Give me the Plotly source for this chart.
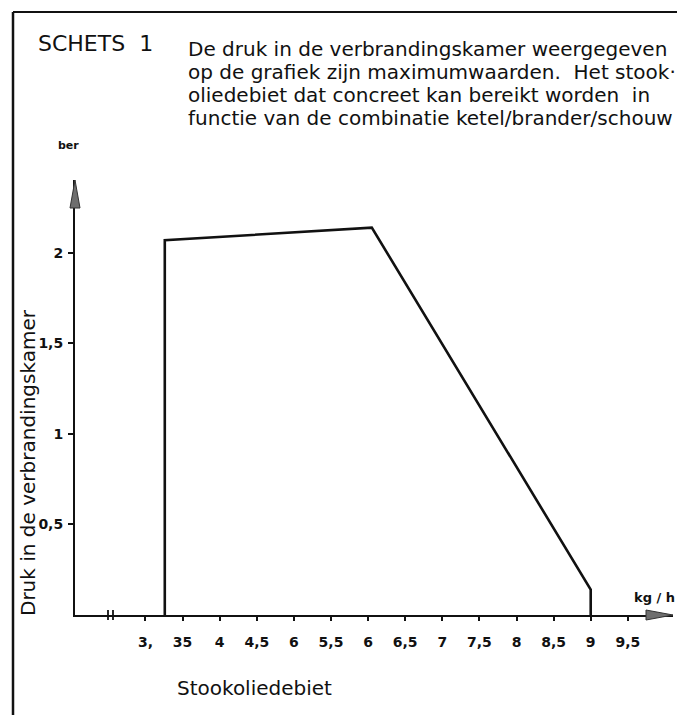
import plotly.graph_objects as go

# ---- data ----
flow = [3.26, 3.26, 6.05, 9.0, 9.0]          # Stookoliedebiet (kg/h)
pressure = [0.0, 2.07, 2.14, 0.14, 0.0]      # Druk in de verbrandingskamer (bar)

x_tick_vals = [3, 3.5, 4, 4.5, 5, 5.5, 6, 6.5, 7, 7.5, 8, 8.5, 9, 9.5]
x_tick_text = ["3,", "35", "4", "4,5", "6", "5,5", "6", "6,5", "7", "7,5", "8", "8,5", "9", "9,5"]
y_tick_vals = [0.5, 1, 1.5, 2]
y_tick_text = ["0,5", "1", "1,5", "2"]

title_left = "SCHETS\u00a0\u00a01"
note_lines = [
    "De druk in de verbrandingskamer weergegeven",
    "op de grafiek zijn maximumwaarden.\u00a0 Het stook\u00b7",
    "oliedebiet dat concreet kan bereikt worden\u00a0 in",
    "functie van de combinatie ketel/brander/schouw",
]
x_title = "Stookoliedebiet"
y_title = "Druk in de verbrandingskamer"
x_unit = "kg / h"
y_unit = "ber"

X_RANGE = [2.05, 10.109]
Y_RANGE = [0, 2.403]

FONT = "DejaVu Sans"
INK = "#111111"

# page geometry: the html body adds an 8px margin, so the figure is 8px smaller
OFF = 8
PLOT_L, PLOT_R, PLOT_T, PLOT_B = 75, 673, 180, 615   # plot area in page pixels
FIG_W, FIG_H = 685 - OFF, 715 - OFF


def px(xp):
    return (xp - PLOT_L) / (PLOT_R - PLOT_L)


def py(yp):
    return (PLOT_B - yp) / (PLOT_B - PLOT_T)


fig = go.Figure()
fig.add_trace(go.Scatter(x=flow, y=pressure, mode="lines",
                         line=dict(color=INK, width=2.6), showlegend=False,
                         hoverinfo="skip"))

fig.update_layout(
    width=FIG_W, height=FIG_H,
    margin=dict(l=PLOT_L - OFF, r=FIG_W + OFF - PLOT_R, t=PLOT_T - OFF,
                b=FIG_H + OFF - PLOT_B),
    paper_bgcolor="white", plot_bgcolor="white",
    font=dict(family=FONT, color=INK),
    showlegend=False,
)
fig.update_xaxes(range=X_RANGE, showgrid=False, zeroline=False,
                 showline=True, linecolor=INK, linewidth=2,
                 ticks="outside", ticklen=4, tickwidth=1.5, tickcolor=INK,
                 tickvals=x_tick_vals, ticktext=x_tick_text,
                 tickfont=dict(family=FONT, size=14, color=INK, weight="bold"),
                 ticklabelstandoff=9)
fig.update_yaxes(range=Y_RANGE, showgrid=False, zeroline=False,
                 showline=True, linecolor=INK, linewidth=2,
                 ticks="outside", ticklen=5, tickwidth=1.5, tickcolor=INK,
                 tickvals=y_tick_vals, ticktext=y_tick_text,
                 tickfont=dict(family=FONT, size=14, color=INK, weight="bold"),
                 ticklabelstandoff=2)

# page frame (top and left borders of the scanned sheet)
fig.add_shape(type="line", xref="paper", yref="paper", x0=px(13), x1=px(700),
              y0=py(12), y1=py(12), line=dict(color=INK, width=2))
fig.add_shape(type="line", xref="paper", yref="paper", x0=px(13), x1=px(13),
              y0=py(12), y1=py(730), line=dict(color=INK, width=2.5))

# arrowheads on axes
fig.add_shape(type="path", xref="paper", yref="paper", xsizemode="pixel", ysizemode="pixel",
              xanchor=1, yanchor=0, path="M0,0 L-27,5 L-27,-5 Z",
              fillcolor="#6e6e6e", line=dict(color="#333333", width=1))
fig.add_shape(type="path", xref="paper", yref="paper", xsizemode="pixel", ysizemode="pixel",
              xanchor=0, yanchor=1, path="M0,0 L-5,-28 L5,-28 Z",
              fillcolor="#6e6e6e", line=dict(color="#333333", width=1))

# axis break marks
for bxp in (108, 113):
    fig.add_shape(type="line", xref="paper", yref="paper", ysizemode="pixel", yanchor=0,
                  x0=px(bxp), x1=px(bxp), y0=-5, y1=5, line=dict(color=INK, width=1.8))

ann = []
ann.append(dict(text=title_left, x=px(36), y=py(44), xref="paper", yref="paper",
                xanchor="left", yanchor="middle", showarrow=False,
                font=dict(family=FONT, size=22, color=INK)))
for i, line in enumerate(note_lines):
    ann.append(dict(text=line, x=px(186), y=py(49 + 23 * i),
                    xref="paper", yref="paper", xanchor="left", yanchor="middle",
                    showarrow=False, font=dict(family=FONT, size=20, color=INK)))
ann.append(dict(text=y_title, x=px(28), y=py(463), xref="paper",
                yref="paper", xanchor="center", yanchor="middle", textangle=-90,
                showarrow=False, font=dict(family=FONT, size=20, color=INK)))
ann.append(dict(text=x_title, x=px(175), y=py(688), xref="paper",
                yref="paper", xanchor="left", yanchor="middle", showarrow=False,
                font=dict(family=FONT, size=20, color=INK)))
ann.append(dict(text=x_unit, x=px(654), y=py(597), xref="paper",
                yref="paper", xanchor="center", yanchor="middle", showarrow=False,
                font=dict(family=FONT, size=13, color=INK, weight="bold")))
ann.append(dict(text=y_unit, x=px(68), y=py(146), xref="paper",
                yref="paper", xanchor="center", yanchor="middle", showarrow=False,
                font=dict(family=FONT, size=11, color=INK, weight="bold")))
fig.update_layout(annotations=ann)

fig.write_html("out.html")
